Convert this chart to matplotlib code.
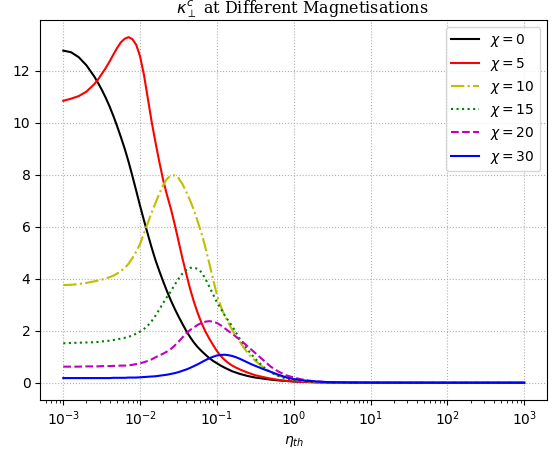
import matplotlib
matplotlib.use("Agg")
import matplotlib.pyplot as plt

log_eta = [-3.0, -2.9, -2.8, -2.7,
           -2.6, -2.55, -2.5, -2.45, -2.4, -2.35, -2.3, -2.25, -2.2, -2.15,
           -2.1, -2.05, -2.0, -1.95, -1.9, -1.85, -1.8, -1.75, -1.7, -1.65,
           -1.6, -1.55, -1.5, -1.45, -1.4, -1.35, -1.3, -1.25, -1.2, -1.15,
           -1.1, -1.05, -1.0, -0.95, -0.9, -0.85, -0.8, -0.75, -0.7, -0.65,
           -0.6, -0.55, -0.5,
           -0.4, -0.3, -0.2, -0.1, 0.0, 0.1, 0.2, 0.3, 0.4, 0.5, 0.7, 1.0, 1.5, 2.0, 3.0]

k_chi0 = [12.78, 12.72, 12.53, 12.22,
          11.8, 11.55, 11.28, 10.98, 10.65, 10.28, 9.88, 9.45, 9.0, 8.5,
          7.95, 7.38, 6.8, 6.25, 5.72, 5.2, 4.72, 4.3, 3.9, 3.52,
          3.17, 2.85, 2.55, 2.27, 2.0, 1.76, 1.55, 1.37, 1.22, 1.08,
          0.95, 0.84, 0.75, 0.66, 0.58, 0.51, 0.44, 0.39, 0.34, 0.3,
          0.26, 0.23, 0.2,
          0.16, 0.12, 0.09, 0.07, 0.05, 0.04, 0.03, 0.02, 0.015, 0.01, 0.006, 0.003, 0.001, 0.0, 0.0]
k_chi5 = [10.85, 10.93, 11.03, 11.2,
          11.48, 11.66, 11.88, 12.1, 12.35, 12.62, 12.88, 13.1, 13.24, 13.3,
          13.22, 13.0, 12.55, 11.85, 10.95, 10.05, 9.25, 8.5, 7.8, 7.22,
          6.7, 6.1, 5.45, 4.8, 4.2, 3.62, 3.12, 2.68, 2.3, 1.97,
          1.7, 1.45, 1.22, 1.03, 0.88, 0.76, 0.66, 0.58, 0.51, 0.45,
          0.39, 0.34, 0.29,
          0.22, 0.16, 0.11, 0.07, 0.05, 0.035, 0.025, 0.018, 0.012, 0.008, 0.004, 0.002, 0.001, 0.0, 0.0]
k_chi10 = [3.76, 3.77, 3.8, 3.84,
           3.9, 3.93, 3.97, 4.01, 4.06, 4.12, 4.2, 4.3, 4.42, 4.58,
           4.8, 5.05, 5.35, 5.75, 6.15, 6.55, 6.92, 7.28, 7.6, 7.85,
           7.97, 7.98, 7.88, 7.65, 7.35, 7.02, 6.65, 6.2, 5.75, 5.2,
           4.6, 3.98, 3.38, 2.95, 2.58, 2.3, 2.02, 1.78, 1.57, 1.35,
           1.15, 0.98, 0.84,
           0.6, 0.42, 0.27, 0.18, 0.12, 0.08, 0.05, 0.03, 0.02, 0.013, 0.006, 0.003, 0.001, 0.0, 0.0]
k_chi15 = [1.52, 1.53, 1.54, 1.55,
           1.56, 1.57, 1.59, 1.6, 1.62, 1.64, 1.67, 1.7, 1.73, 1.77,
           1.82, 1.89, 1.97, 2.07, 2.2, 2.37, 2.58, 2.82, 3.07, 3.3,
           3.52, 3.77, 4.0, 4.2, 4.33, 4.42, 4.43, 4.38, 4.25, 4.0,
           3.7, 3.4, 3.1, 2.85, 2.6, 2.38, 2.17, 1.92, 1.68, 1.47,
           1.27, 1.09, 0.92,
           0.62, 0.4, 0.26, 0.16, 0.1, 0.06, 0.04, 0.025, 0.016, 0.01, 0.005, 0.002, 0.001, 0.0, 0.0]
k_chi20 = [0.62, 0.62, 0.62, 0.63,
           0.63, 0.63, 0.64, 0.64, 0.64, 0.65, 0.65, 0.66, 0.66, 0.67,
           0.69, 0.72, 0.75, 0.79, 0.84, 0.9, 0.98, 1.05, 1.12, 1.2,
           1.3, 1.43, 1.58, 1.74, 1.9, 2.03, 2.13, 2.23, 2.3, 2.35,
           2.37, 2.35, 2.3, 2.21, 2.1, 1.99, 1.88, 1.77, 1.65, 1.53,
           1.4, 1.27, 1.14,
           0.88, 0.62, 0.43, 0.29, 0.2, 0.13, 0.08, 0.05, 0.03, 0.02, 0.01, 0.004, 0.001, 0.0, 0.0]
k_chi30 = [0.18, 0.18, 0.18, 0.18,
           0.18, 0.18, 0.18, 0.18, 0.18, 0.19, 0.19, 0.19, 0.19, 0.2,
           0.2, 0.2, 0.21, 0.22, 0.23, 0.24, 0.25, 0.27, 0.29, 0.31,
           0.34, 0.37, 0.41, 0.46, 0.51, 0.57, 0.64, 0.71, 0.79, 0.87,
           0.94, 1.0, 1.05, 1.07, 1.08, 1.06, 1.03, 0.98, 0.92, 0.85,
           0.78, 0.71, 0.65,
           0.53, 0.42, 0.31, 0.21, 0.14, 0.1, 0.07, 0.05, 0.03, 0.02, 0.01, 0.004, 0.001, 0.0, 0.0]

series = [k_chi0, k_chi5, k_chi10, k_chi15, k_chi20, k_chi30]
labels = [r'$\chi = 0$', r'$\chi = 5$', r'$\chi = 10$',
          r'$\chi = 15$', r'$\chi = 20$', r'$\chi = 30$']
styles = ['k-', 'r-', 'y-.', 'g:', 'm--', 'b-']

eta = [10 ** e for e in log_eta]

fig = plt.figure(figsize=(5.59, 4.51), dpi=100)
ax = fig.add_axes([0.072, 0.113, 0.907, 0.843])

for vals, lab, st in zip(series, labels, styles):
    ax.plot(eta, vals, st, label=lab, linewidth=1.5)

ax.set_xscale('log')
ax.grid(True, linestyle=':', color='#b0b0b0')
ax.set_xlabel(r'$\eta_{th}$')
ax.set_title(r'$\kappa_{\perp}^{c}$ at Different Magnetisations',
             family='serif', fontsize=11.5, x=0.516, pad=3.5)
ax.legend(loc='upper right', fontsize=10, labelspacing=0.45)

fig.savefig('out.png', dpi=100)
